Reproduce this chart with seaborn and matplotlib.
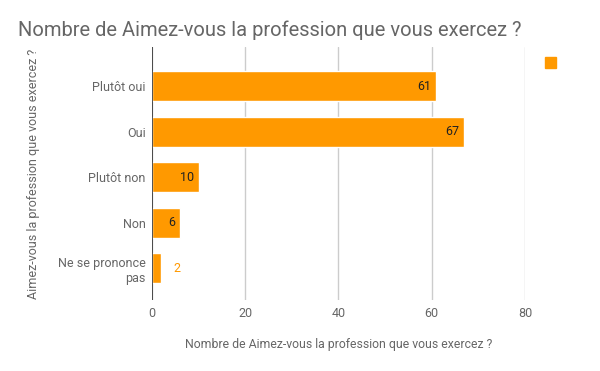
import matplotlib
matplotlib.use("Agg")
import matplotlib.pyplot as plt
import seaborn as sns
import pandas as pd
from matplotlib.patches import Rectangle

# data
categories = ["Plutôt oui", "Oui", "Plutôt non", "Non", "Ne se prononce\npas"]
counts = [61, 67, 10, 6, 2]
xticks = [0, 20, 40, 60, 80]

title = "Nombre de Aimez-vous la profession que vous exercez ?"
orange = "#ff9900"
grey = "#666666"

sns.set_theme(style="white")
plt.rcParams["font.family"] = ["Roboto", "DejaVu Sans"]

df = pd.DataFrame({"cat": categories, "n": counts})

fig = plt.figure(figsize=(6, 3.71), dpi=100)
ax = fig.add_axes([0.2533, 0.1914, 0.875 - 0.2533, 0.8733 - 0.1914])

sns.barplot(data=df, x="n", y="cat", color=orange, saturation=1, width=0.66, ax=ax, zorder=3)

ax.set_xlim(0, 80)
ax.set_ylim(4.7, -0.86)
ax.set_xticks(xticks)
ax.grid(axis="x", color="#cccccc", linewidth=1, zorder=0)
ax.axvline(0, color="#333333", linewidth=1.2, zorder=4)
for s in ax.spines.values():
    s.set_visible(False)
ax.tick_params(axis="both", length=0, colors=grey, labelsize=9)
ax.tick_params(axis="y", pad=4.5)
ax.tick_params(axis="x", pad=5)

# value labels
for i, v in enumerate(counts):
    if v >= 5:
        ax.text(v - 1, i, str(v), ha="right", va="center", fontsize=9, color="#222222", zorder=5)
    else:
        ax.text(v + 2.6, i, str(v), ha="left", va="center", fontsize=9, color=orange, zorder=5)

ax.set_xlabel(title, fontsize=8.8, color=grey, labelpad=13)
ax.set_ylabel("Aimez-vous la profession que vous exercez ?", fontsize=9, color=grey, labelpad=13)

fig.text(18 / 600, 1 - 30 / 371, title, fontsize=14.5, color=grey, ha="left", va="center")

# legend marker without label
fig.patches.append(Rectangle((545 / 600, 1 - 68 / 371), 11 / 600, 11 / 371,
                             transform=fig.transFigure, color=orange))

fig.savefig("out.png", dpi=100)
